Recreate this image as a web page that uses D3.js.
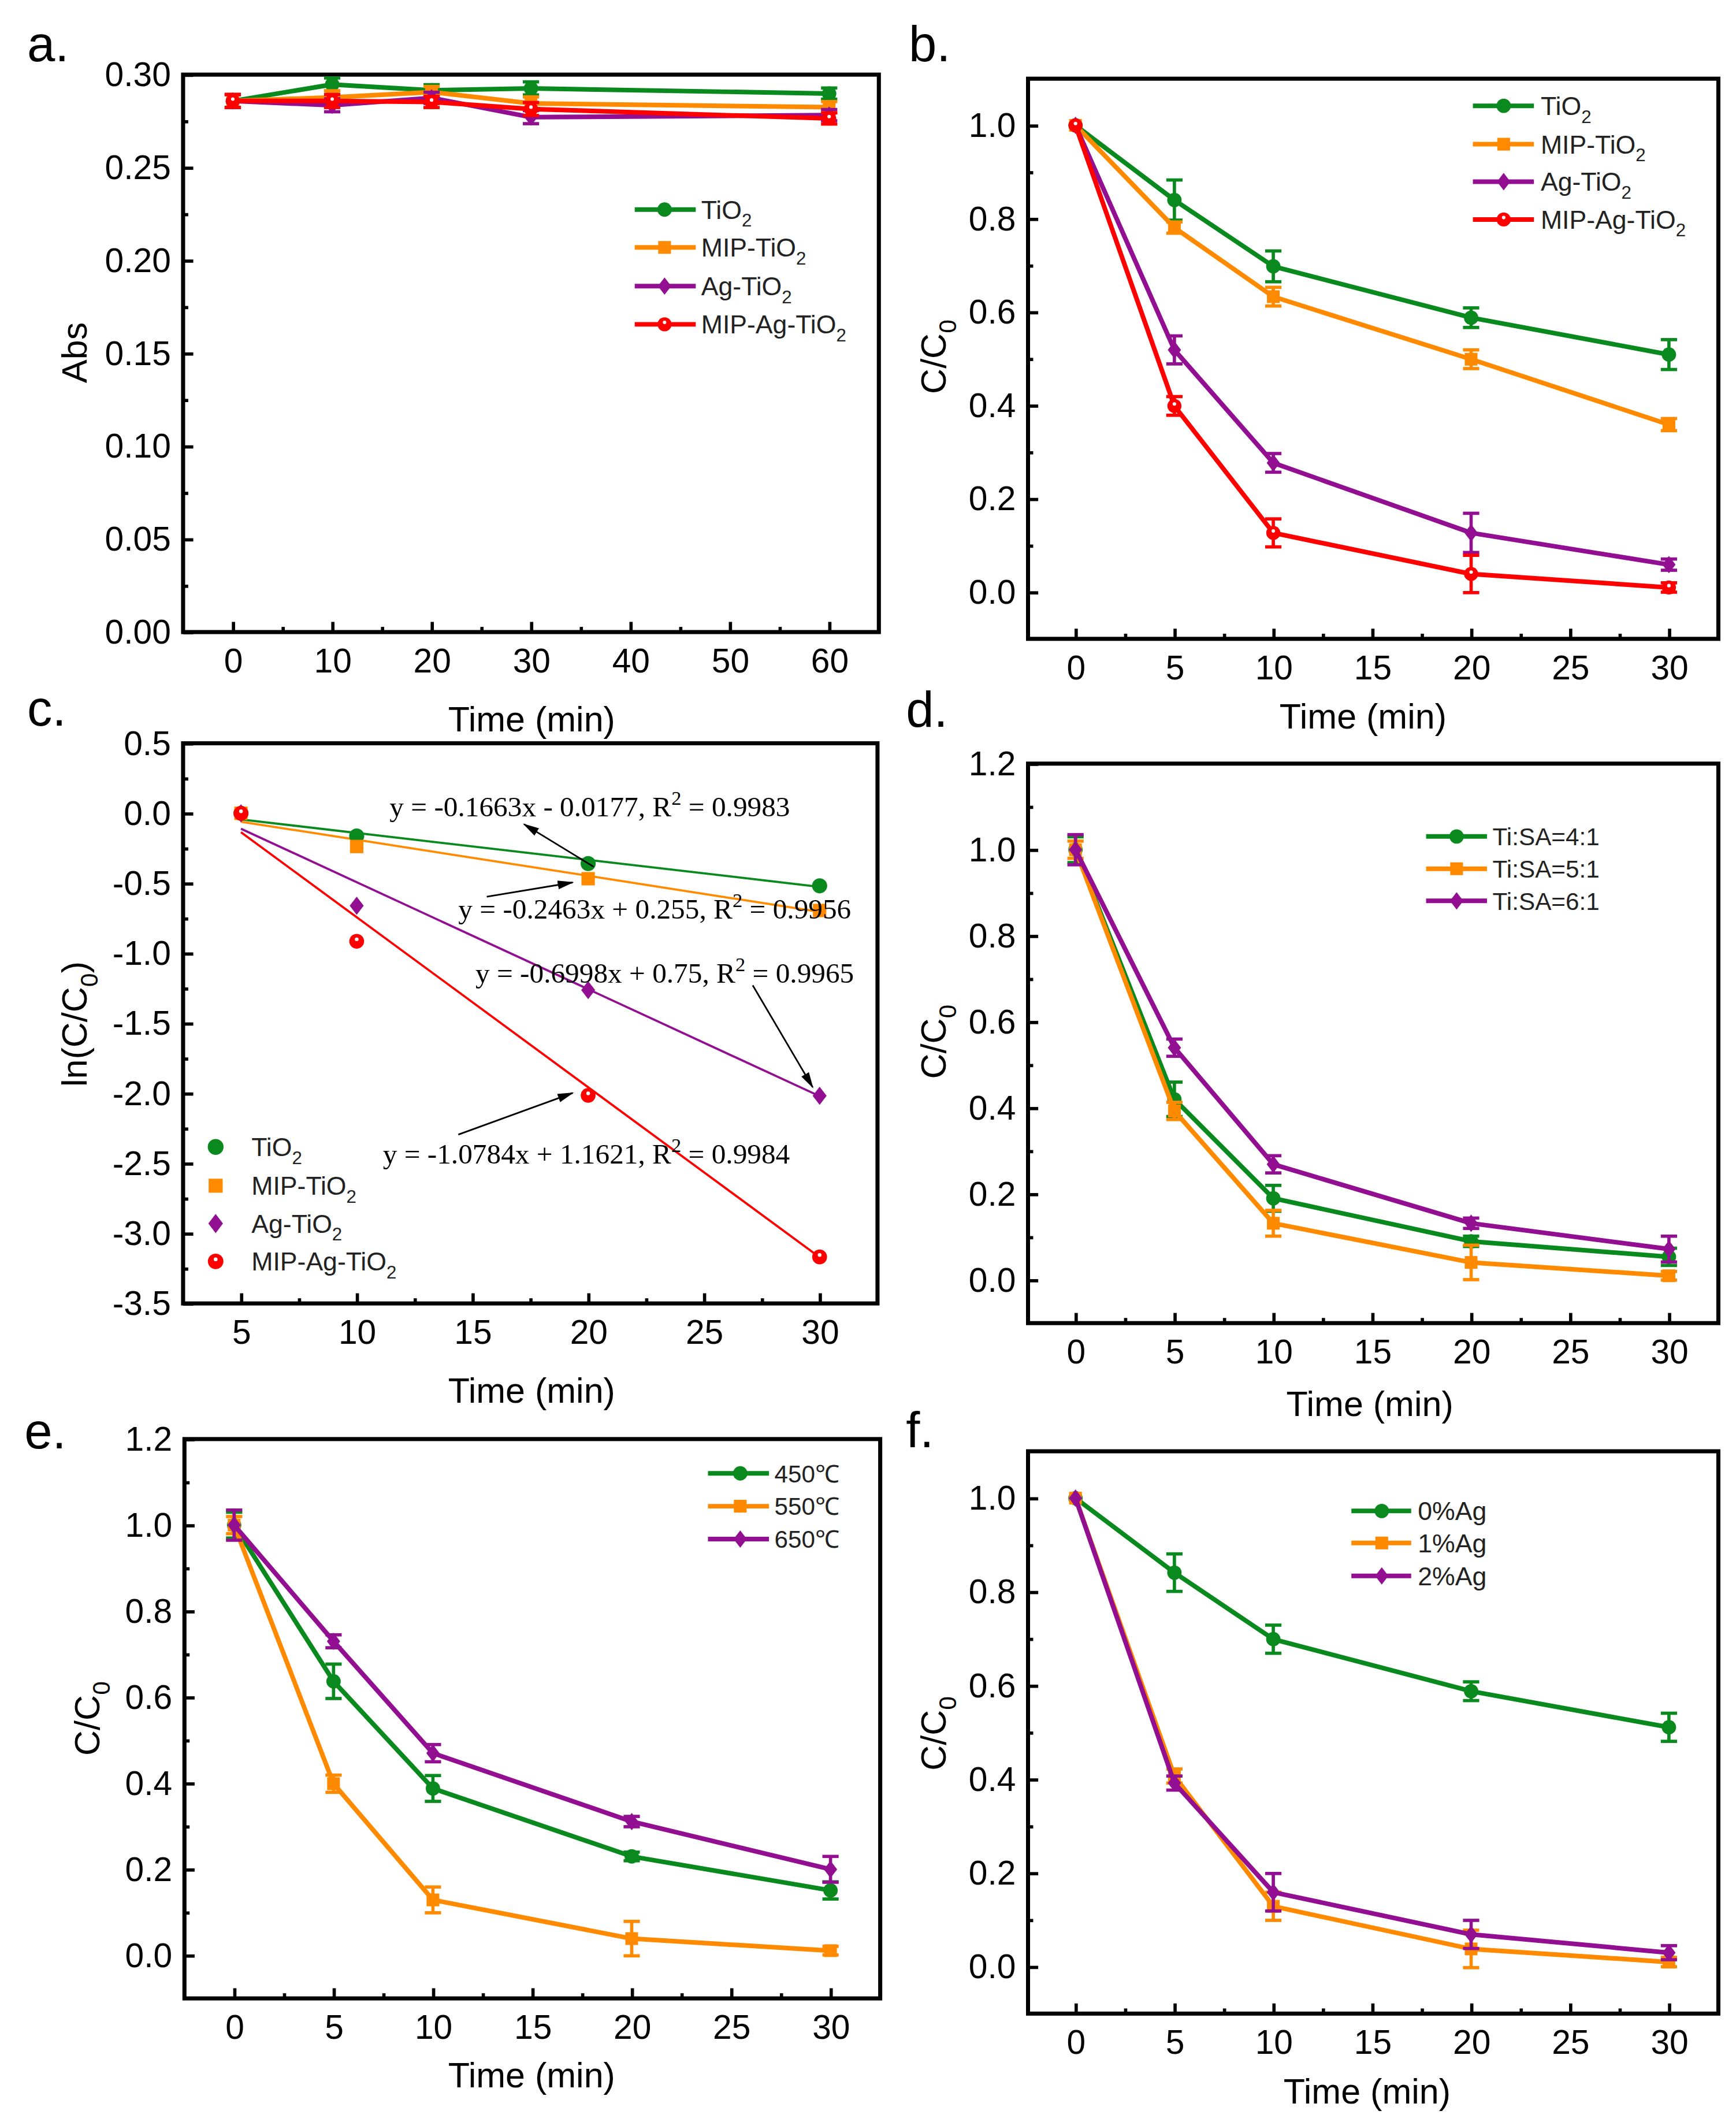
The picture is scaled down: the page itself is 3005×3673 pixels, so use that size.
<!DOCTYPE html>
<html><head><meta charset="utf-8">
<script src="https://cdn.jsdelivr.net/npm/d3@7"></script>
<style>html,body{margin:0;padding:0;background:#fff;} svg{display:block;}</style>
</head><body>
<svg id="chart"></svg>
<script>
// ================= DATA =================
// Panel a : absorbance vs time
const aTime = [0, 10, 20, 30, 60];
const aTiO2 = [0.2858, 0.2947, 0.2916, 0.2926, 0.2898];
const aMIPTiO2 = [0.2858, 0.2878, 0.2906, 0.2845, 0.2825];
const aAgTiO2 = [0.2858, 0.2835, 0.2875, 0.2771, 0.2782];
const aMIPAgTiO2 = [0.2858, 0.2858, 0.2853, 0.2815, 0.2764];
const aErr = [0.0035, 0.0035, 0.003, 0.0035, 0.003];
const aXTicks = [0, 10, 20, 30, 40, 50, 60];
const aXMinor = [5, 15, 25, 35, 45, 55];
const aYTicks = [0, 0.05, 0.10, 0.15, 0.20, 0.25, 0.30];
const aYMinor = [0.025, 0.075, 0.125, 0.175, 0.225, 0.275];

// Panel b : C/C0 vs time
const bTime = [0, 5, 10, 20, 30];
const bTiO2 = [1.0, 0.840, 0.698, 0.588, 0.509];
const bTiO2Err = [0, 0.043, 0.033, 0.021, 0.032];
const bMIPTiO2 = [1.0, 0.781, 0.633, 0.499, 0.359];
const bMIPTiO2Err = [0, 0.012, 0.02, 0.02, 0.013];
const bAgTiO2 = [1.0, 0.519, 0.277, 0.127, 0.059];
const bAgTiO2Err = [0, 0.03, 0.02, 0.042, 0.012];
const bMIPAgTiO2 = [1.0, 0.399, 0.127, 0.039, 0.010];
const bMIPAgTiO2Err = [0, 0.02, 0.03, 0.04, 0.01];

// Panel c : ln(C/C0) vs time with linear fits
const cTime = [5, 10, 20, 30];
const cTiO2 = [0, -0.162, -0.359, -0.518];
const cMIPTiO2 = [0, -0.237, -0.467, -0.694];
const cAgTiO2 = [0, -0.66, -1.262, -2.017];
const cMIPAgTiO2 = [0, -0.914, -2.014, -3.168];
const cFitX = [5, 30];
const cFitTiO2 = [-0.044, -0.525];
const cFitMIPTiO2 = [-0.06, -0.704];
const cFitAgTiO2 = [-0.11, -2.02];
const cFitMIPAgTiO2 = [-0.135, -3.17];
const cEquations = [
  "y = -0.1663x - 0.0177, R^2 = 0.9983",
  "y = -0.2463x + 0.255, R^2 = 0.9956",
  "y = -0.6998x + 0.75, R^2 = 0.9965",
  "y = -1.0784x + 1.1621, R^2 = 0.9984"
];
const cXTicks = [5, 10, 15, 20, 25, 30];
const cXMinor = [7.5, 12.5, 17.5, 22.5, 27.5];
const cYTicks = [0.5, 0, -0.5, -1.0, -1.5, -2.0, -2.5, -3.0, -3.5];
const cYMinor = [0.25, -0.25, -0.75, -1.25, -1.75, -2.25, -2.75, -3.25];

// Panel d : Ti:SA ratio
const dTime = [0, 5, 10, 20, 30];
const dSA41 = [1.0, 0.42, 0.19, 0.09, 0.054];
const dSA41Err = [0.03, 0.04, 0.03, 0.012, 0.02];
const dSA51 = [1.0, 0.393, 0.132, 0.041, 0.01];
const dSA51Err = [0.02, 0.02, 0.03, 0.04, 0.01];
const dSA61 = [1.0, 0.54, 0.269, 0.132, 0.072];
const dSA61Err = [0.035, 0.02, 0.02, 0.012, 0.03];

// Panel e : calcination temperature
const eTime = [0, 5, 10, 20, 30];
const e450 = [1.0, 0.637, 0.388, 0.23, 0.151];
const e450Err = [0.03, 0.04, 0.03, 0.01, 0.02];
const e550 = [1.0, 0.399, 0.129, 0.039, 0.011];
const e550Err = [0.02, 0.02, 0.03, 0.04, 0.01];
const e650 = [1.0, 0.73, 0.47, 0.311, 0.2];
const e650Err = [0.035, 0.015, 0.02, 0.012, 0.03];

// Panel f : Ag loading
const fTime = [0, 5, 10, 20, 30];
const f0Ag = [1.0, 0.841, 0.699, 0.588, 0.511];
const f0AgErr = [0, 0.04, 0.03, 0.02, 0.03];
const f1Ag = [1.0, 0.407, 0.129, 0.038, 0.01];
const f1AgErr = [0, 0.015, 0.03, 0.04, 0.01];
const f2Ag = [1.0, 0.392, 0.159, 0.069, 0.03];
const f2AgErr = [0, 0.015, 0.04, 0.03, 0.015];

const cTimeXTicks = [0, 5, 10, 15, 20, 25, 30];
const cTimeXMinor = [2.5, 7.5, 12.5, 17.5, 22.5, 27.5];
const ratioYTicks12 = [0, 0.2, 0.4, 0.6, 0.8, 1.0, 1.2];
const ratioYMinor12 = [0.1, 0.3, 0.5, 0.7, 0.9, 1.1];
const ratioYTicks10 = [0, 0.2, 0.4, 0.6, 0.8, 1.0];
const ratioYMinor10 = [0.1, 0.3, 0.5, 0.7, 0.9];

const legendB = ["TiO_2", "MIP-TiO_2", "Ag-TiO_2", "MIP-Ag-TiO_2"];
const legendD = ["Ti:SA=4:1", "Ti:SA=5:1", "Ti:SA=6:1"];
const legendE = ["450\u2103", "550\u2103", "650\u2103"];
const legendF = ["0%Ag", "1%Ag", "2%Ag"];

// ================= STYLE =================
const GREEN = "#0a8a1e", ORANGE = "#ff8a00", PURPLE = "#920f92", RED = "#ff0000";
const FONT = "'Liberation Sans', Arial, Helvetica, sans-serif";
const SERIF = "'Liberation Serif', 'Times New Roman', serif";

const svg = d3.select("#chart")
  .attr("width", 3005).attr("height", 3673)
  .attr("viewBox", "0 0 1280 1564.5");
svg.append("rect").attr("width", 1280).attr("height", 1564.5).attr("fill", "#fff");

const defs = svg.append("defs");
defs.append("marker").attr("id", "arrow").attr("viewBox", "0 0 12 8")
  .attr("refX", 11).attr("refY", 4).attr("markerWidth", 12).attr("markerHeight", 8)
  .attr("markerUnits", "userSpaceOnUse").attr("orient", "auto")
  .append("path").attr("d", "M0,0.8 L12,4 L0,7.2 Z").attr("fill", "#000");

function addRich(t, str, fs) {
  const parts = [];
  let i = 0;
  while (i < str.length) {
    if (str[i] === "_" || str[i] === "^") { parts.push({ t: str[i + 1], k: str[i] }); i += 2; }
    else {
      let j = i;
      while (j < str.length && str[j] !== "_" && str[j] !== "^") j++;
      parts.push({ t: str.slice(i, j), k: "" }); i = j;
    }
  }
  let shift = 0;
  parts.forEach(p => {
    const ts = t.append("tspan").text(p.t);
    let target = 0;
    if (p.k === "_") { target = fs * 0.3; ts.attr("font-size", fs * 0.7); }
    else if (p.k === "^") { target = -fs * 0.4; ts.attr("font-size", fs * 0.7); }
    const dy = target - shift;
    if (dy !== 0) ts.attr("dy", dy);
    shift = target;
  });
}

function drawMarker(g, shape, cx, cy, color, s = 1) {
  const m = g.append("g").attr("transform", `translate(${cx},${cy})`);
  if (shape === "circle") m.append("circle").attr("r", 5.3 * s).attr("fill", color);
  else if (shape === "square") m.append("rect").attr("x", -4.7 * s).attr("y", -4.7 * s)
    .attr("width", 9.4 * s).attr("height", 9.4 * s).attr("fill", color);
  else if (shape === "diamond") m.append("path")
    .attr("d", `M0,${-6.4 * s} L${4.9 * s},0 L0,${6.4 * s} L${-4.9 * s},0 Z`).attr("fill", color);
  else if (shape === "sphere") {
    m.append("circle").attr("r", 5.2 * s).attr("fill", color);
    m.append("circle").attr("cx", 0).attr("cy", -1.4 * s).attr("r", 1.3 * s).attr("fill", "#fff");
  }
}

function drawPanel(p) {
  const x = d3.scaleLinear().domain(p.xDomain).range([p.l, p.r]);
  const y = d3.scaleLinear().domain(p.yDomain).range([p.b, p.t]);
  const g = svg.append("g");
  const styleAxis = (ax) => {
    ax.select(".domain").remove();
    ax.attr("font-size", null).attr("font-family", null);
    ax.selectAll("line").attr("stroke", "#000").attr("stroke-width", 2.4);
    ax.selectAll("text").attr("font-size", 25).attr("font-family", FONT).attr("fill", "#000");
  };
  const xa = g.append("g").attr("transform", `translate(0,${p.b})`)
    .call(d3.axisBottom(x).tickValues(p.xTicks).tickSize(-7.5).tickPadding(12).tickFormat(d => String(d)));
  styleAxis(xa);
  const xm = g.append("g").attr("transform", `translate(0,${p.b})`)
    .call(d3.axisBottom(x).tickValues(p.xMinor).tickSize(-3.8).tickFormat(""));
  styleAxis(xm);
  const ya = g.append("g").attr("transform", `translate(${p.l},0)`)
    .call(d3.axisLeft(y).tickValues(p.yTicks).tickSize(-7.5).tickPadding(9).tickFormat(p.yFormat));
  styleAxis(ya);
  const ym = g.append("g").attr("transform", `translate(${p.l},0)`)
    .call(d3.axisLeft(y).tickValues(p.yMinor).tickSize(-3.8).tickFormat(""));
  styleAxis(ym);
  g.append("rect").attr("x", p.l).attr("y", p.t).attr("width", p.r - p.l).attr("height", p.b - p.t)
    .attr("fill", "none").attr("stroke", "#000").attr("stroke-width", 3);
  g.append("text").attr("x", p.label[1]).attr("y", p.label[2]).attr("font-size", 37)
    .attr("font-family", FONT).text(p.label[0]);
  g.append("text").attr("x", p.xTitle[0]).attr("y", p.xTitle[1]).attr("dy", "0.35em")
    .attr("text-anchor", "middle").attr("font-size", 26).attr("font-family", FONT).text("Time (min)");
  const yt = g.append("text").attr("transform", `translate(${p.yTitle[1]},${p.yTitle[2]}) rotate(-90)`)
    .attr("dy", "0.35em").attr("text-anchor", "middle").attr("font-size", 26).attr("font-family", FONT);
  addRich(yt, p.yTitle[0], 26);
  return { x, y, g };
}

function drawSeries(P, xs, ys, errs, color, shape) {
  const pts = xs.map((t, i) => ({ t, v: ys[i], e: errs ? errs[i] : 0 }));
  P.g.append("path").datum(pts)
    .attr("d", d3.line().x(d => P.x(d.t)).y(d => P.y(d.v)))
    .attr("fill", "none").attr("stroke", color).attr("stroke-width", 3.4).attr("stroke-linejoin", "round");
  pts.filter(d => d.e > 0).forEach(d => {
    const cx = P.x(d.t), y1 = P.y(d.v - d.e), y2 = P.y(d.v + d.e);
    const eg = P.g.append("g").attr("stroke", color).attr("stroke-width", 2.4);
    eg.append("line").attr("x1", cx).attr("x2", cx).attr("y1", y1).attr("y2", y2);
    eg.append("line").attr("x1", cx - 6).attr("x2", cx + 6).attr("y1", y1).attr("y2", y1);
    eg.append("line").attr("x1", cx - 6).attr("x2", cx + 6).attr("y1", y2).attr("y2", y2);
  });
  pts.forEach(d => drawMarker(P.g, shape, P.x(d.t), P.y(d.v), color));
}

function drawLegend(g, L, labels, colors, shapes, withLine = true) {
  labels.forEach((lab, i) => {
    const ry = L.rows[i];
    if (withLine) g.append("line").attr("x1", L.x1).attr("x2", L.x2).attr("y1", ry).attr("y2", ry)
      .attr("stroke", colors[i]).attr("stroke-width", 3.4);
    drawMarker(g, shapes[i], L.mx, ry, colors[i], L.ms || 1);
    const t = g.append("text").attr("x", L.tx).attr("y", ry + L.fs * 0.36)
      .attr("font-size", L.fs).attr("font-family", L.font || FONT).attr("fill", "#222");
    addRich(t, lab, L.fs);
  });
}

const f2 = d => d.toFixed(2), f1 = d => d.toFixed(1);
const col4 = [GREEN, ORANGE, PURPLE, RED];
const shp4 = ["circle", "square", "diamond", "sphere"];
const col3 = [GREEN, ORANGE, PURPLE];
const shp3 = ["circle", "square", "diamond"];

// ---- Panel a ----
const PA = drawPanel({ l: 135, r: 648, t: 55, b: 466, xDomain: [-5, 65], yDomain: [0, 0.3],
  xTicks: aXTicks, xMinor: aXMinor, yTicks: aYTicks, yMinor: aYMinor, yFormat: f2,
  label: ["a.", 20, 45], xTitle: [392, 530], yTitle: ["Abs", 55, 260] });
drawSeries(PA, aTime, aTiO2, aErr, GREEN, "circle");
drawSeries(PA, aTime, aMIPTiO2, aErr, ORANGE, "square");
drawSeries(PA, aTime, aAgTiO2, aErr, PURPLE, "diamond");
drawSeries(PA, aTime, aMIPAgTiO2, aErr, RED, "sphere");
drawLegend(PA.g, { x1: 468, x2: 513, mx: 490, tx: 517, rows: [154.5, 182.4, 210.9, 239.1], fs: 19 }, legendB, col4, shp4);

// ---- Panel b ----
const PB = drawPanel({ l: 758, r: 1267, t: 58, b: 471, xDomain: [-2.4, 32.5], yDomain: [-0.1, 1.1],
  xTicks: cTimeXTicks, xMinor: cTimeXMinor, yTicks: ratioYTicks10, yMinor: ratioYMinor10, yFormat: f1,
  label: ["b.", 670, 45], xTitle: [1005, 528], yTitle: ["C/C_0", 688, 263] });
drawSeries(PB, bTime, bTiO2, bTiO2Err, GREEN, "circle");
drawSeries(PB, bTime, bMIPTiO2, bMIPTiO2Err, ORANGE, "square");
drawSeries(PB, bTime, bAgTiO2, bAgTiO2Err, PURPLE, "diamond");
drawSeries(PB, bTime, bMIPAgTiO2, bMIPAgTiO2Err, RED, "sphere");
drawLegend(PB.g, { x1: 1086, x2: 1131, mx: 1108.7, tx: 1136, rows: [78, 106.3, 133.9, 161.8], fs: 19 }, legendB, col4, shp4);

// ---- Panel c ----
const PC = drawPanel({ l: 135, r: 647, t: 548, b: 961, xDomain: [2.5, 32.5], yDomain: [-3.5, 0.5],
  xTicks: cXTicks, xMinor: cXMinor, yTicks: cYTicks, yMinor: cYMinor, yFormat: f1,
  label: ["c.", 20, 535], xTitle: [392, 1025], yTitle: ["ln(C/C_0)", 55, 755] });
const cSets = [[cTiO2, cFitTiO2], [cMIPTiO2, cFitMIPTiO2], [cAgTiO2, cFitAgTiO2], [cMIPAgTiO2, cFitMIPAgTiO2]];
cSets.forEach((s, k) => {
  PC.g.append("path").datum(cFitX.map((t, i) => [t, s[1][i]]))
    .attr("d", d3.line().x(d => PC.x(d[0])).y(d => PC.y(d[1])))
    .attr("fill", "none").attr("stroke", col4[k]).attr("stroke-width", 1.6);
});
cSets.forEach((s, k) => {
  cTime.forEach((t, i) => drawMarker(PC.g, shp4[k], PC.x(t), PC.y(s[0][i]), col4[k], 1.05));
});
const cEqPos = [[11.42, -0.02], [14.39, -0.75], [15.13, -1.21], [11.13, -2.50]];
const cArrows = [[[20.24, -0.382], [17.23, -0.078]], [[15.62, -0.596], [19.33, -0.494]],
  [[27.11, -1.228], [29.70, -1.956]], [[14.39, -2.294], [19.33, -1.997]]];
cArrows.forEach(a => {
  PC.g.append("line").attr("x1", PC.x(a[0][0])).attr("y1", PC.y(a[0][1]))
    .attr("x2", PC.x(a[1][0])).attr("y2", PC.y(a[1][1]))
    .attr("stroke", "#000").attr("stroke-width", 1.2).attr("marker-end", "url(#arrow)");
});
cEquations.forEach((eq, i) => {
  const t = PC.g.append("text").attr("x", PC.x(cEqPos[i][0])).attr("y", PC.y(cEqPos[i][1]))
    .attr("font-size", 21).attr("font-family", SERIF).attr("fill", "#000");
  addRich(t, eq, 21);
});
drawLegend(PC.g, { mx: 159, tx: 185.4, rows: [845.6, 874.2, 902.1, 930], fs: 19, ms: 1.1 }, legendB, col4, shp4, false);

// ---- Panel d ----
const PD = drawPanel({ l: 758, r: 1267, t: 563, b: 975.5, xDomain: [-2.4, 32.5], yDomain: [-0.1, 1.2],
  xTicks: cTimeXTicks, xMinor: cTimeXMinor, yTicks: ratioYTicks12, yMinor: ratioYMinor12, yFormat: f1,
  label: ["d.", 668, 536], xTitle: [1010, 1035], yTitle: ["C/C_0", 688, 768] });
drawSeries(PD, dTime, dSA41, dSA41Err, GREEN, "circle");
drawSeries(PD, dTime, dSA51, dSA51Err, ORANGE, "square");
drawSeries(PD, dTime, dSA61, dSA61Err, PURPLE, "diamond");
drawLegend(PD.g, { x1: 1051.5, x2: 1096.4, mx: 1074, tx: 1100.5, rows: [616.7, 640.5, 664.2], fs: 18,
  font: "'Liberation Sans Narrow', 'Arial Narrow', " + FONT }, legendD, col3, shp3);

// ---- Panel e ----
const PE = drawPanel({ l: 136, r: 649, t: 1061, b: 1473.4, xDomain: [-2.5, 32.5], yDomain: [-0.1, 1.2],
  xTicks: cTimeXTicks, xMinor: cTimeXMinor, yTicks: ratioYTicks12, yMinor: ratioYMinor12, yFormat: f1,
  label: ["e.", 18, 1068], xTitle: [392, 1530], yTitle: ["C/C_0", 64, 1267] });
drawSeries(PE, eTime, e450, e450Err, GREEN, "circle");
drawSeries(PE, eTime, e550, e550Err, ORANGE, "square");
drawSeries(PE, eTime, e650, e650Err, PURPLE, "diamond");
drawLegend(PE.g, { x1: 522, x2: 567, mx: 545.8, tx: 571, rows: [1086.3, 1110.5, 1134.7], fs: 18 }, legendE, col3, shp3);

// ---- Panel f ----
const PF = drawPanel({ l: 758, r: 1267, t: 1070, b: 1484.6, xDomain: [-2.4, 32.5], yDomain: [-0.1, 1.1],
  xTicks: cTimeXTicks, xMinor: cTimeXMinor, yTicks: ratioYTicks10, yMinor: ratioYMinor10, yFormat: f1,
  label: ["f.", 668, 1067], xTitle: [1008, 1542], yTitle: ["C/C_0", 688, 1278] });
drawSeries(PF, fTime, f0Ag, f0AgErr, GREEN, "circle");
drawSeries(PF, fTime, f1Ag, f1AgErr, ORANGE, "square");
drawSeries(PF, fTime, f2Ag, f2AgErr, PURPLE, "diamond");
drawLegend(PF.g, { x1: 996.4, x2: 1040.5, mx: 1018.8, tx: 1045.4, rows: [1114, 1137.6, 1161.9], fs: 19 }, legendF, col3, shp3);
</script>
</body></html>
